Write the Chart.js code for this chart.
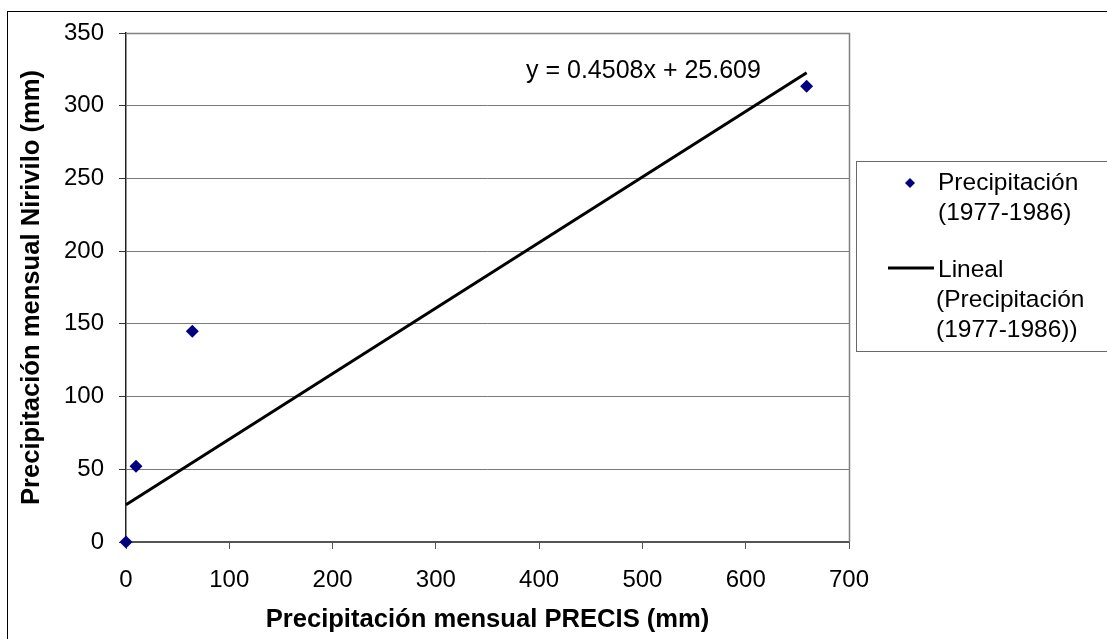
<!DOCTYPE html>
<html>
<head>
<meta charset="utf-8">
<script src="https://cdn.jsdelivr.net/npm/chart.js@4/dist/chart.umd.min.js"></script>
<style>
  html, body { margin: 0; padding: 0; background: #ffffff; }
  #wrap { width: 1107px; height: 639px; position: relative; }
  canvas { display: block; }
</style>
</head>
<body>
<div id="wrap"><canvas id="c" width="1107" height="639"></canvas></div>
<script>
// ---- data ----
const xValues = [0, 9.7, 64.2, 659];          // Precipitación mensual PRECIS (mm)
const yValues = [0, 52.1, 144.9, 313.4];      // Precipitación mensual Nirivilo (mm)
const trendSlope = 0.4508;
const trendIntercept = 25.609;
const equationText = 'y = 0.4508x + 25.609';
const seriesLabel = ['Precipitación', '(1977-1986)'];
const trendLabel = ['Lineal', '(Precipitación', '(1977-1986))'];
const xTitle = 'Precipitación mensual PRECIS (mm)';
const yTitle = 'Precipitación mensual Nirivilo (mm)';
const xTickRange = [0, 700, 100];
const yTickRange = [0, 350, 50];

const FONT = "'Liberation Sans', Arial, sans-serif";
const MARK = '#000080';

const scatterPoints = xValues.map((x, i) => ({ x: x, y: yValues[i] }));
const xMin = Math.min(...xValues), xMax = Math.max(...xValues);
const trendPoints = [xMin, xMax].map(x => ({ x: x, y: trendSlope * x + trendIntercept }));

const framePlugin = {
  id: 'frame',
  beforeDraw(chart) {
    const ctx = chart.ctx;
    ctx.save();
    ctx.fillStyle = '#ffffff';
    ctx.fillRect(0, 0, chart.width, chart.height);
    ctx.strokeStyle = '#000000';
    ctx.lineWidth = 1;
    ctx.strokeRect(7.5, 11.5, 1300, 800);
    ctx.restore();
  },
  beforeDatasetsDraw(chart) {
    const a = chart.chartArea, ctx = chart.ctx;
    ctx.save();
    ctx.strokeStyle = '#808080';
    ctx.lineWidth = 1.5;
    ctx.beginPath();
    ctx.moveTo(a.left, Math.round(a.top) + 0.5);
    ctx.lineTo(Math.round(a.right) + 0.5, Math.round(a.top) + 0.5);
    ctx.lineTo(Math.round(a.right) + 0.5, a.bottom);
    ctx.stroke();
    ctx.restore();
  },
  afterDraw(chart) {
    const ctx = chart.ctx;
    ctx.save();
    // equation label
    ctx.fillStyle = '#000000';
    ctx.font = '25px ' + FONT;
    ctx.textBaseline = 'alphabetic';
    ctx.textAlign = 'left';
    ctx.fillText(equationText, 526, 78);
    // legend box
    ctx.fillStyle = '#ffffff';
    ctx.fillRect(856.5, 161.5, 300, 190);
    ctx.strokeStyle = '#6a6a6a';
    ctx.lineWidth = 1;
    ctx.strokeRect(856.5, 161.5, 300, 190);
    // scatter entry
    ctx.fillStyle = MARK;
    ctx.beginPath();
    const dx = 910, dy = 183, r = 5;
    ctx.moveTo(dx, dy - r); ctx.lineTo(dx + r, dy); ctx.lineTo(dx, dy + r); ctx.lineTo(dx - r, dy);
    ctx.closePath(); ctx.fill();
    ctx.fillStyle = '#000000';
    ctx.font = '24.5px ' + FONT;
    const tx = 938;
    let base = [190, 220];
    seriesLabel.forEach((t, i) => ctx.fillText(t, tx, base[i]));
    // trend entry
    ctx.strokeStyle = '#000000';
    ctx.lineWidth = 3;
    ctx.beginPath(); ctx.moveTo(888, 268); ctx.lineTo(934, 268); ctx.stroke();
    base = [277, 307, 337];
    trendLabel.forEach((t, i) => ctx.fillText(t, i === 0 ? tx : tx - 2, base[i]));
    ctx.restore();
  }
};

new Chart(document.getElementById('c'), {
  type: 'scatter',
  data: {
    datasets: [
      {
        label: seriesLabel.join(' '),
        data: scatterPoints,
        pointStyle: 'rectRot',
        pointRadius: 6.5,
        pointHoverRadius: 6.5,
        backgroundColor: MARK,
        borderColor: MARK,
        borderWidth: 0,
        clip: false,
        order: 1
      },
      {
        type: 'line',
        label: trendLabel.join(' '),
        data: trendPoints,
        borderColor: '#000000',
        borderWidth: 3,
        pointRadius: 0,
        fill: false,
        tension: 0,
        order: 2
      }
    ]
  },
  options: {
    responsive: false,
    animation: false,
    devicePixelRatio: 1,
    layout: { padding: { left: 0, top: 33, right: 258, bottom: 0 } },
    plugins: { legend: { display: false }, tooltip: { enabled: false } },
    scales: {
      x: {
        type: 'linear',
        min: xTickRange[0], max: xTickRange[1],
        afterFit(s) { s.height = 97; },
        ticks: { stepSize: xTickRange[2], color: '#000000', font: { family: FONT, size: 24 }, padding: 17, maxRotation: 0 },
        grid: { drawOnChartArea: false, drawTicks: true, tickLength: 7, tickColor: '#555555', tickWidth: 1 },
        border: { display: true, color: '#555555', width: 2 },
        title: { display: true, text: xTitle, color: '#000000', font: { family: FONT, size: 25.6, weight: 'bold' }, padding: { top: 0, bottom: 4 } }
      },
      y: {
        type: 'linear',
        min: yTickRange[0], max: yTickRange[1],
        afterFit(s) { s.width = 126; },
        ticks: { stepSize: yTickRange[2], color: '#000000', font: { family: FONT, size: 24 }, padding: 15 },
        grid: { drawOnChartArea: true, color: '#7a7a7a', lineWidth: 1, drawTicks: true, tickLength: 7, tickColor: '#333333' },
        border: { display: true, color: '#222222', width: 1.5 },
        title: { display: true, text: yTitle, color: '#000000', font: { family: FONT, size: 25.6, weight: 'bold' }, padding: { top: 17, bottom: 0 } }
      }
    }
  },
  plugins: [framePlugin]
});
</script>
</body>
</html>
